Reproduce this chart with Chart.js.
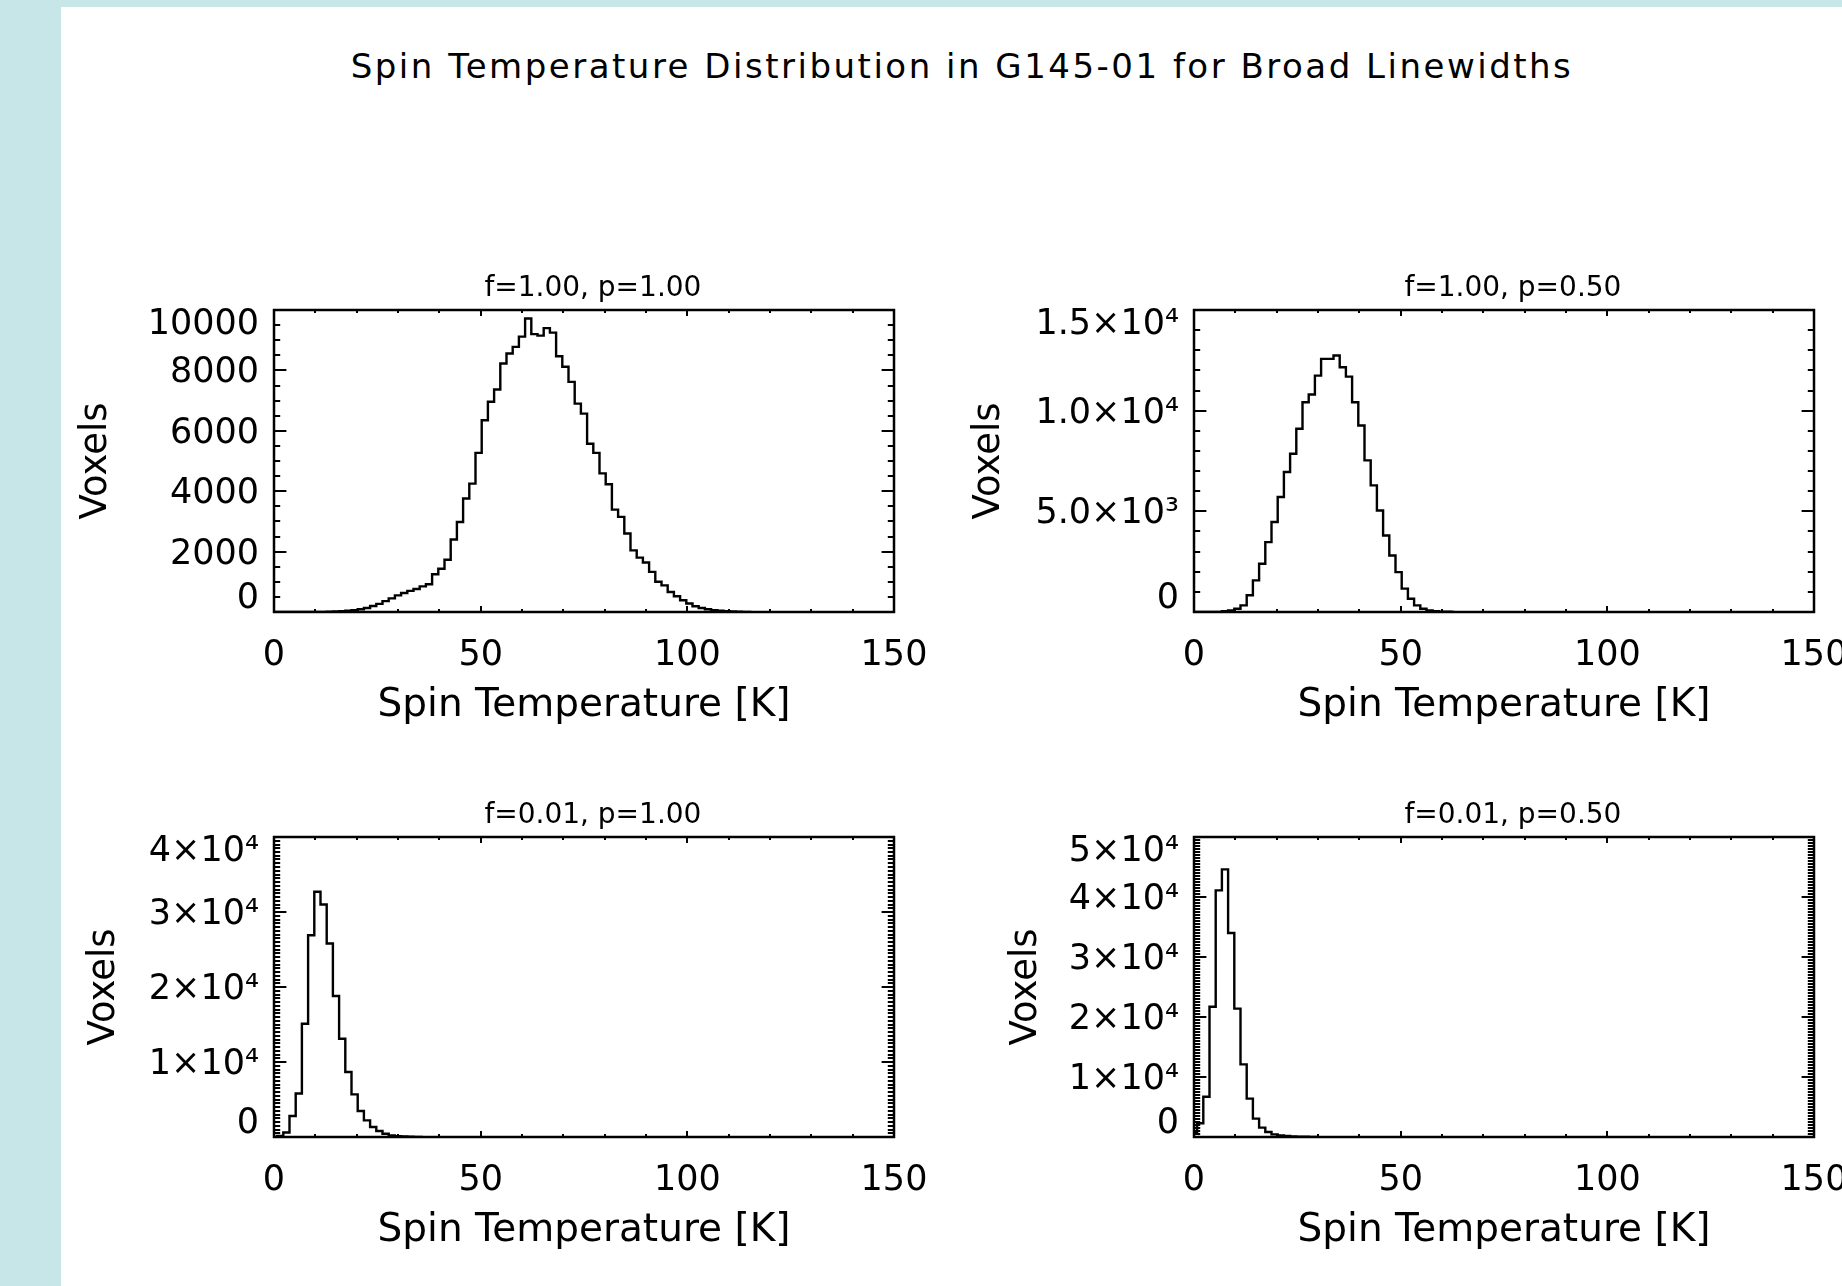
<!DOCTYPE html>
<html>
<head>
<meta charset="utf-8">
<title>Spin Temperature Distribution in G145-01</title>
<script src="https://cdn.jsdelivr.net/npm/chart.js@4.4.1/dist/chart.umd.min.js"></script>
<style>
  html, body { margin: 0; padding: 0; }
  body {
    width: 1842px; height: 1286px; overflow: hidden; position: relative;
    background: #c6e6e8; font-family: "DejaVu Sans", sans-serif; color: #000;
  }
  #sheet { position: absolute; left: 61px; top: 7px; right: 0; bottom: 0; background: #fff; }
  #mainTitle {
    position: absolute; left: 262px; width: 1400px; top: 49px;
    font-size: 34px; line-height: 34px; text-align: center; letter-spacing: 2.5px;
  }
  canvas { position: absolute; }
</style>
</head>
<body>
<div id="sheet"></div>
<div id="mainTitle">Spin Temperature Distribution in G145-01 for Broad Linewidths</div>
<canvas id="histA" width="893" height="478" style="left:61px;top:250px"></canvas>
<canvas id="histB" width="924" height="478" style="left:950px;top:250px"></canvas>
<canvas id="histC" width="893" height="476" style="left:61px;top:777px"></canvas>
<canvas id="histD" width="924" height="476" style="left:950px;top:777px"></canvas>
<script>
// histogram bins are 1.5 K wide, first bin centred on 0 K
const binWidth = 1.5;

const countsF100P100 = [
  0, 0, 0, 0, 0, 0, 0, 0, 5, 10,
  15, 25, 40, 60, 90, 130, 200, 270, 360, 450,
  550, 630, 700, 760, 850, 920, 1250, 1430, 1730, 2400,
  2980, 3760, 4250, 5270, 6350, 6960, 7370, 8230, 8560, 8780,
  9120, 9720, 9200, 9150, 9400, 9250, 8470, 8120, 7620, 6900,
  6570, 5570, 5270, 4590, 4230, 3390, 3150, 2600, 2040, 1800,
  1640, 1330, 1000, 880, 660, 520, 390, 280, 190, 130,
  90, 60, 40, 25, 15, 8, 4, 0
];
const countsF100P050 = [
  0, 0, 0, 0, 0, 40, 80, 160, 330, 830,
  1570, 2400, 3470, 4470, 5710, 6950, 7860, 9100, 10420, 10800,
  11740, 12570, 12570, 12740, 12160, 11690, 10420, 9260, 7530, 6290,
  5040, 3800, 2810, 1980, 1160, 660, 330, 165, 80, 40,
  20, 10, 0
];
const countsF001P100 = [
  0, 150, 600, 2800, 5800, 15100, 26900, 32700, 31000, 25800,
  18800, 13100, 8670, 5690, 3470, 2220, 1330, 800, 440, 220,
  120, 60, 30, 15, 0
];
const countsF001P050 = [
  620, 2280, 6720, 21700, 41100, 44600, 34000, 21400, 12100, 6390,
  3060, 1560, 830, 440, 250, 170, 100, 60, 30, 15,
  0
];

const panelTitles = ['f=1.00, p=1.00', 'f=1.00, p=0.50', 'f=0.01, p=1.00', 'f=0.01, p=0.50'];

const yTicksA = [0, 2000, 4000, 6000, 8000, 10000];
const yLabelsA = ['0', '2000', '4000', '6000', '8000', '10000'];
const yTicksB = [0, 5000, 10000, 15000];
const yLabelsB = ['0', '5.0×10³', '1.0×10⁴', '1.5×10⁴'];
const yTicksC = [0, 10000, 20000, 30000, 40000];
const yLabelsC = ['0', '1×10⁴', '2×10⁴', '3×10⁴', '4×10⁴'];
const yTicksD = [0, 10000, 20000, 30000, 40000, 50000];
const yLabelsD = ['0', '1×10⁴', '2×10⁴', '3×10⁴', '4×10⁴', '5×10⁴'];

const FONT = '"DejaVu Sans", sans-serif';

// IDL-style frame: box on all four sides, inward major/minor ticks, y labels kept inside the axis span
const idlFrame = {
  id: 'idlFrame',
  afterDraw(chart, args, opts) {
    const { ctx, chartArea: a, scales: { x, y } } = chart;
    const w = a.right - a.left, h = a.bottom - a.top;
    ctx.save();
    ctx.strokeStyle = '#000';
    ctx.lineWidth = 2.5;
    ctx.strokeRect(a.left, a.top, w, h);
    ctx.lineWidth = 2;
    ctx.beginPath();
    for (let v = x.min; v <= x.max + 1e-6; v += opts.xMinor) {
      const px = Math.round(x.getPixelForValue(v));
      const len = (Math.abs(v % opts.xMajor) < 1e-6 ? 0.02 : 0.01) * h;
      ctx.moveTo(px, a.bottom); ctx.lineTo(px, a.bottom - len);
      ctx.moveTo(px, a.top); ctx.lineTo(px, a.top + len);
    }
    for (let v = y.min; v <= y.max + 1e-6; v += opts.yMinor) {
      const py = Math.round(y.getPixelForValue(v));
      const len = (opts.ticks.includes(v) ? 0.02 : 0.01) * w;
      ctx.moveTo(a.left, py); ctx.lineTo(a.left + len, py);
      ctx.moveTo(a.right, py); ctx.lineTo(a.right - len, py);
    }
    ctx.stroke();

    ctx.fillStyle = '#000';
    ctx.font = '35px ' + FONT;
    ctx.textAlign = 'right';
    ctx.textBaseline = 'middle';
    opts.ticks.forEach((v, i) => {
      let py = y.getPixelForValue(v) + 3;
      py = Math.min(Math.max(py, a.top + 15), a.bottom - 13);
      ctx.fillText(opts.labels[i], a.left - 15, py);
    });
    ctx.restore();
  }
};

function makeHist(id, counts, title, yMax, ticks, labels, yMinor, yWidth, voxelPad, rightPad) {
  const points = counts.map((c, i) => ({ x: i * binWidth, y: c }));
  new Chart(document.getElementById(id), {
    type: 'line',
    data: {
      datasets: [{
        data: points,
        stepped: 'middle',
        borderColor: '#000',
        borderWidth: 2.4,
        pointRadius: 0,
        fill: false,
      }],
    },
    options: {
      responsive: false,
      animation: false,
      layout: { padding: { left: 0, right: rightPad, top: 0, bottom: 0 } },
      plugins: {
        legend: { display: false },
        tooltip: { enabled: false },
        title: {
          display: true,
          text: '  ' + title,
          fullSize: false,
          color: '#000',
          font: { family: FONT, size: 28, weight: 'normal', lineHeight: 1 },
          padding: { top: 24.5, bottom: 7.5 },
        },
        idlFrame: { xMajor: 50, xMinor: 10, ticks: ticks, labels: labels, yMinor: yMinor },
      },
      scales: {
        x: {
          type: 'linear',
          min: 0,
          max: 150,
          grid: { display: false, drawTicks: false },
          border: { display: false },
          ticks: {
            stepSize: 50, color: '#000', padding: 26, maxRotation: 0, autoSkip: false,
            font: { family: FONT, size: 35, lineHeight: 1 },
          },
          title: {
            display: true, text: 'Spin Temperature [K]', color: '#000',
            font: { family: FONT, size: 39, lineHeight: 1 },
            padding: { top: 0, bottom: 2.5 },
          },
          afterFit(scale) { scale.height = 116; },
        },
        y: {
          type: 'linear',
          min: 0,
          max: yMax,
          grid: { display: false, drawTicks: false },
          border: { display: false },
          ticks: { display: false },
          title: {
            display: true, text: 'Voxels', color: '#000',
            font: { family: FONT, size: 37, lineHeight: 1 },
            padding: { top: voxelPad, bottom: 0 },
          },
          afterFit(scale) { scale.width = yWidth; },
        },
      },
    },
    plugins: [idlFrame],
  });
}

document.addEventListener('DOMContentLoaded', () => {
  makeHist('histA', countsF100P100, panelTitles[0], 10000, yTicksA, yLabelsA, 500, 213, 17, 60);
  makeHist('histB', countsF100P050, panelTitles[1], 15000, yTicksB, yLabelsB, 1000, 244, 21, 60);
  makeHist('histC', countsF001P100, panelTitles[2], 40000, yTicksC, yLabelsC, 500, 213, 25, 60);
  makeHist('histD', countsF001P050, panelTitles[3], 50000, yTicksD, yLabelsD, 500, 244, 58, 60);
});
</script>
</body>
</html>
